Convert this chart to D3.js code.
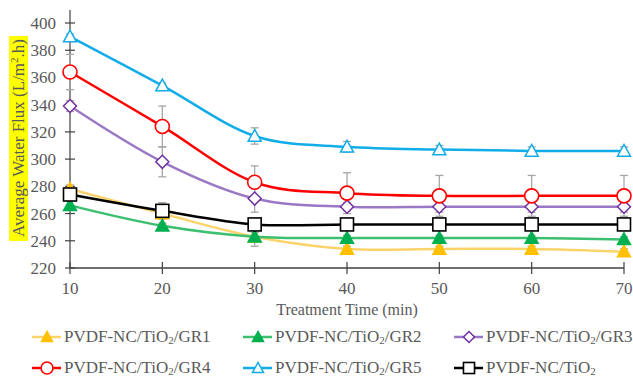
<!DOCTYPE html>
<html>
<head>
<meta charset="utf-8">
<script src="https://cdn.jsdelivr.net/npm/d3@7"></script>
<style>
  body { margin: 0; background: #fff; }
</style>
</head>
<body>
<div id="chart"></div>
<script>
// treatment time (min)
const times = [10, 20, 30, 40, 50, 60, 70];
const yTicks = [220, 240, 260, 280, 300, 320, 340, 360, 380, 400];

const gr1 = [278, 260, 243, 234, 234, 234, 232];
const gr2 = [266, 251, 243, 242, 242, 242, 241];
const gr3 = [339, 298, 271, 265, 265, 265, 265];
const gr4 = [364, 324, 283, 275, 273, 273, 273];
const gr5 = [390, 354, 317, 309, 307, 306, 306];
const tio2 = [274, 262, 252, 252, 252, 252, 252];

// standard deviations
const gr1Err = [3, 3, 3, 2, 2, 2, 2];
const gr2Err = [3, 2, 7, 2, 2, 2, 2];
const gr3Err = [4, 11, 10, 3, 4, 4, 4];
const gr4Err = [13, 15, 12, 15, 15, 15, 15];
const gr5Err = [2, 2, 6, 4, 3, 3, 3];
const tio2Err = [2, 6, 2, 1, 1, 1, 1];

const series = [
  { name: 'GR1', values: gr1, err: gr1Err, line: '#fbd36b', stroke: '#ffc000', fill: '#ffc000', shape: 'tri' },
  { name: 'GR2', values: gr2, err: gr2Err, line: '#3cbf6e', stroke: '#00b050', fill: '#00b050', shape: 'tri' },
  { name: 'GR3', values: gr3, err: gr3Err, line: '#9b78c6', stroke: '#7030a0', fill: '#fff', shape: 'diamond' },
  { name: 'GR4', values: gr4, err: gr4Err, line: '#ff0000', stroke: '#ff0000', fill: '#fff', shape: 'circle' },
  { name: 'GR5', values: gr5, err: gr5Err, line: '#12ace8', stroke: '#12ace8', fill: '#fff', shape: 'tri' },
  { name: '', values: tio2, err: tio2Err, line: '#000', stroke: '#000', fill: '#fff', shape: 'square' }
];

const width = 633, height = 377;
const font = "'Liberation Serif', 'Times New Roman', Times, serif";
const svg = d3.select('#chart').append('svg')
  .attr('width', width).attr('height', height)
  .attr('font-family', font);

const x = d3.scaleLinear().domain([10, 70]).range([70, 624]);
const y = d3.scaleLinear().domain([220, 400]).range([268, 23]);

// y axis title with yellow highlight
svg.append('rect')
  .attr('x', 9).attr('y', 36).attr('width', 19).attr('height', 205)
  .attr('fill', '#ffff00');
const yTitle = svg.append('text')
  .attr('transform', 'translate(24,138) rotate(-90)')
  .attr('text-anchor', 'middle')
  .attr('font-size', 17)
  .attr('fill', '#595959');
yTitle.append('tspan').text('Average Water Flux  (L/m');
yTitle.append('tspan').attr('dy', -6).attr('font-size', 11).text('2');
yTitle.append('tspan').attr('dy', 6).text('.h)');

// axes
const axisColor = '#404040';
svg.append('line')
  .attr('x1', x(10)).attr('x2', x(10)).attr('y1', 10).attr('y2', y(220))
  .attr('stroke', axisColor).attr('stroke-width', 1.2);
svg.append('line')
  .attr('x1', x(10)).attr('x2', x(70)).attr('y1', y(220)).attr('y2', y(220))
  .attr('stroke', axisColor).attr('stroke-width', 1.5);

svg.selectAll('.ytick').data(yTicks).enter().append('line')
  .attr('x1', x(10) - 5).attr('x2', x(10) + 5)
  .attr('y1', d => y(d)).attr('y2', d => y(d))
  .attr('stroke', axisColor).attr('stroke-width', 1.2);
svg.selectAll('.ylab').data(yTicks).enter().append('text')
  .attr('x', 56).attr('y', d => y(d) + 6)
  .attr('text-anchor', 'end').attr('font-size', 17).attr('fill', '#595959')
  .text(d => d);

svg.selectAll('.xtick').data(times).enter().append('line')
  .attr('x1', d => x(d)).attr('x2', d => x(d))
  .attr('y1', y(220) - 6).attr('y2', y(220) + 6)
  .attr('stroke', axisColor).attr('stroke-width', 1.2);
svg.selectAll('.xlab').data(times).enter().append('text')
  .attr('x', d => x(d)).attr('y', 294)
  .attr('text-anchor', 'middle').attr('font-size', 17).attr('fill', '#595959')
  .text(d => d);

svg.append('text')
  .attr('x', 347).attr('y', 315)
  .attr('text-anchor', 'middle').attr('font-size', 16).attr('fill', '#595959')
  .text('Treatment Time (min)');

// error bars
const errColor = '#a6a6a6';
series.forEach(s => {
  const g = svg.append('g');
  s.values.forEach((v, i) => {
    const e = s.err[i];
    const cx = x(times[i]);
    g.append('line').attr('x1', cx).attr('x2', cx)
      .attr('y1', y(v + e)).attr('y2', y(v - e))
      .attr('stroke', errColor).attr('stroke-width', 1.3);
    [v + e, v - e].forEach(b => {
      g.append('line').attr('x1', cx - 4).attr('x2', cx + 4)
        .attr('y1', y(b)).attr('y2', y(b))
        .attr('stroke', errColor).attr('stroke-width', 1.3);
    });
  });
});

const line = d3.line()
  .x((d, i) => x(times[i]))
  .y(d => y(d))
  .curve(d3.curveCatmullRom.alpha(0));

function drawMarker(g, shape, cx, cy, s, scale) {
  const k = scale || 1;
  if (shape === 'tri') {
    const h = 6.5 * k;
    g.append('path')
      .attr('d', `M${cx},${cy - h}L${cx + h},${cy + h * 0.8}L${cx - h},${cy + h * 0.8}Z`)
      .attr('fill', s.fill).attr('stroke', s.stroke).attr('stroke-width', 1.5);
  } else if (shape === 'diamond') {
    const h = 6.5 * k;
    g.append('path')
      .attr('d', `M${cx},${cy - h}L${cx + h},${cy}L${cx},${cy + h}L${cx - h},${cy}Z`)
      .attr('fill', s.fill).attr('stroke', s.stroke).attr('stroke-width', 1.5);
  } else if (shape === 'circle') {
    g.append('circle').attr('cx', cx).attr('cy', cy).attr('r', 7 * k)
      .attr('fill', s.fill).attr('stroke', s.stroke).attr('stroke-width', 1.6);
  } else {
    const h = 6.5 * k;
    g.append('rect').attr('x', cx - h).attr('y', cy - h)
      .attr('width', 2 * h).attr('height', 2 * h)
      .attr('fill', s.fill).attr('stroke', s.stroke).attr('stroke-width', 1.6);
  }
}

// lines and markers
series.forEach(s => {
  svg.append('path')
    .attr('d', line(s.values))
    .attr('fill', 'none')
    .attr('stroke', s.line)
    .attr('stroke-width', 2.5);
  const g = svg.append('g');
  s.values.forEach((v, i) => drawMarker(g, s.shape, x(times[i]), y(v), s));
});

// legend
const legendPos = [
  [32, 337], [243, 337], [454, 337],
  [32, 368], [243, 368], [454, 368]
];
series.forEach((s, i) => {
  const [lx, ly] = legendPos[i];
  const g = svg.append('g');
  g.append('line').attr('x1', lx).attr('x2', lx + 29).attr('y1', ly).attr('y2', ly)
    .attr('stroke', s.line).attr('stroke-width', 2.5);
  drawMarker(g, s.shape, lx + 15, ly, s, 0.85);
  const t = g.append('text')
    .attr('x', lx + 32).attr('y', ly + 5)
    .attr('font-size', 17).attr('fill', '#595959');
  t.append('tspan').text('PVDF-NC/TiO');
  t.append('tspan').attr('font-size', 11).attr('dy', 2).text('2');
  if (s.name) t.append('tspan').attr('dy', -2).text('/' + s.name);
});
</script>
</body>
</html>
